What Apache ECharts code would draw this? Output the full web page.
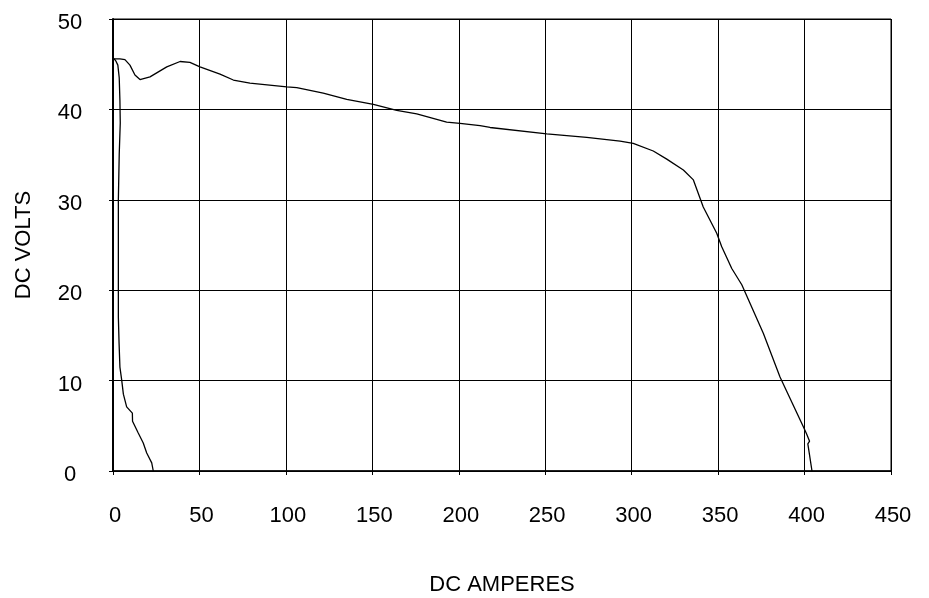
<!DOCTYPE html>
<html>
<head>
<meta charset="utf-8">
<script src="https://cdn.jsdelivr.net/npm/echarts@6/dist/echarts.min.js"></script>
<style>
  html, body { margin: 0; padding: 0; background: #fff; }
  #chart { width: 929px; height: 598px; }
</style>
</head>
<body>
<div id="chart"></div>
<script>
// Axis ranges and tick labels
const xTicks = [0, 50, 100, 150, 200, 250, 300, 350, 400, 450];
const yTicks = [0, 10, 20, 30, 40, 50];

// Low-current sweep: amperes / volts
const sweepLowAmps = [23.3, 22.4, 19.5, 17.5, 14.6, 11.3, 11.2, 10.5, 7.9, 6.0, 5.0, 4.0, 3.5, 3.1, 3.1, 3.1, 3.6, 4.2, 4.0, 3.6, 2.8, 1.5, 0.6];
const sweepLowVolts = [0, 0.9, 2.0, 3.1, 4.2, 5.5, 6.4, 6.6, 7.1, 8.5, 10.1, 11.5, 14.2, 17, 24, 30, 35, 38.5, 41.0, 43.5, 44.9, 45.4, 45.6];

// Full load sweep: amperes / volts
const sweepMainAmps = [0, 4, 6.9, 9.8, 12.7, 15.6, 21.4, 31.1, 38.8, 44.5, 50.3, 61.9, 69.6, 79.2, 100.5, 106.3, 121.6, 135.2, 150.6, 164.1, 175.7, 193, 200.7, 212.3, 218.1, 250.9, 274, 293.3, 300.9, 312.5, 320.3, 329.9, 335.7, 339.5, 341.4, 349.2, 352.1, 357.9, 363.7, 376.2, 385.8, 399.3, 401.2, 402.9, 401.9, 404.3];
const sweepMainVolts = [45.6, 45.6, 45.5, 44.9, 43.8, 43.3, 43.6, 44.7, 45.3, 45.2, 44.7, 43.9, 43.25, 42.9, 42.5, 42.4, 41.8, 41.1, 40.55, 39.9, 39.5, 38.6, 38.45, 38.2, 38.0, 37.3, 36.9, 36.5, 36.25, 35.4, 34.5, 33.3, 32.2, 30.2, 29.2, 26.3, 24.8, 22.4, 20.6, 15.2, 10.4, 4.9, 4.1, 3.3, 3.0, 0];

const pairs = (xs, ys) => xs.map((x, i) => [x, ys[i]]);

const font = 'Liberation Sans, Arial, sans-serif';
const lineStyle = { color: '#000', width: 1.3 };

const chart = echarts.init(document.getElementById('chart'), null, { renderer: 'canvas' });
chart.setOption({
  animation: false,
  backgroundColor: '#fff',
  grid: {
    left: 113, right: 38, top: 19, bottom: 127,
    outerBoundsMode: 'none', containLabel: false,
    show: true, borderColor: '#000', borderWidth: 1
  },
  xAxis: {
    type: 'value',
    min: xTicks[0], max: xTicks[xTicks.length - 1], interval: 50,
    name: 'DC AMPERES', nameLocation: 'middle', nameGap: 103,
    nameTextStyle: { color: '#000', fontSize: 22, fontFamily: font },
    axisLine: { show: true, lineStyle: { color: '#000', width: 1.5 } },
    axisTick: { show: true, inside: false, length: 4, lineStyle: { color: '#000' } },
    axisLabel: { color: '#000', fontSize: 22, fontFamily: font, margin: 34, padding: [0, 0, 0, 4] },
    splitLine: { show: true, lineStyle: { color: '#000', width: 1 } }
  },
  yAxis: {
    type: 'value',
    min: yTicks[0], max: yTicks[yTicks.length - 1], interval: 10,
    name: 'DC VOLTS', nameLocation: 'middle', nameGap: 78, nameRotate: 90,
    nameTextStyle: { color: '#000', fontSize: 22, fontFamily: font },
    axisLine: { show: true, lineStyle: { color: '#000', width: 2 } },
    axisTick: { show: true, inside: false, length: 4, lineStyle: { color: '#000' } },
    axisLabel: { color: '#000', fontSize: 22, fontFamily: font, margin: 43, align: 'center', verticalAlign: 'top', lineHeight: 8 },
    splitLine: { show: true, lineStyle: { color: '#000', width: 1 } }
  },
  series: [
    { type: 'line', data: pairs(sweepLowAmps, sweepLowVolts), showSymbol: false, symbol: 'none', lineStyle: lineStyle, z: 3 },
    { type: 'line', data: pairs(sweepMainAmps, sweepMainVolts), showSymbol: false, symbol: 'none', lineStyle: lineStyle, z: 3 }
  ]
});
</script>
</body>
</html>
